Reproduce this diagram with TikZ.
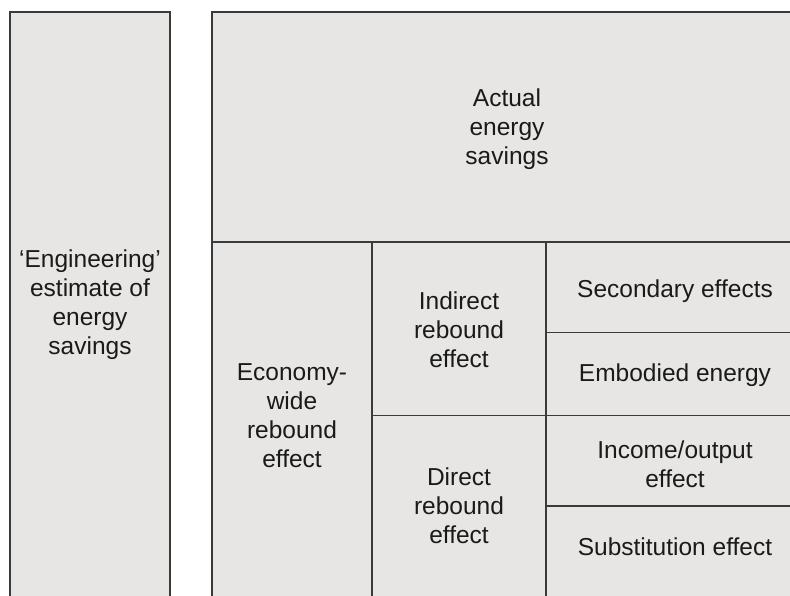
\documentclass[tikz,border=0pt]{standalone}
\usepackage{fontspec}
\setmainfont{Liberation Sans}
\definecolor{linecol}{HTML}{3A3A3A}
\definecolor{cellfill}{HTML}{E7E6E5}
\definecolor{textcol}{HTML}{1A1A1A}
\begin{document}
\begin{tikzpicture}[x=1pt,y=-1pt,
  cell/.style={draw=linecol, fill=cellfill, line width=1.8pt},
  divider/.style={draw=linecol, line width=1.5pt},
  lbl/.style={font=\fontsize{24.5}{29}\selectfont, text=textcol, align=center, inner sep=0pt}]
\useasboundingbox (0,0) rectangle (790,596);
\fill[white] (0,0) rectangle (790,596);
\begin{scope}
\clip (0,0) rectangle (790,596);
% left column
\draw[cell] (10,12.3) rectangle (170,620);
% right block
\draw[cell] (212.3,12.3) rectangle (810,620);
\draw[divider] (212.3,242) -- (810,242);
\draw[divider] (372,242) -- (372,620);
\draw[divider] (546,242) -- (546,620);
\draw[divider] (372,415.5) -- (810,415.5);
\draw[divider] (546,332.5) -- (810,332.5);
\draw[divider] (546,506) -- (810,506);
\end{scope}
% labels
\node[lbl] (eng) at (90,305) {‘Engineering’\\estimate of\\energy\\savings};
\node[lbl] (actual) at (507,129) {Actual\\energy\\savings};
\node[lbl] (econ) at (292,416) {Economy-\\wide\\rebound\\effect};
\node[lbl] (indirect) at (459,329.4) {Indirect\\rebound\\effect};
\node[lbl] (direct) at (459,506) {Direct\\rebound\\effect};
\node[lbl, anchor=base] (secondary) at (675,298) {Secondary effects};
\node[lbl, anchor=base] (embodied) at (675,381) {Embodied energy};
\node[lbl] (income) at (675,464) {Income/output\\effect};
\node[lbl, anchor=base] (subst) at (675,555) {Substitution effect};
\end{tikzpicture}
\end{document}
